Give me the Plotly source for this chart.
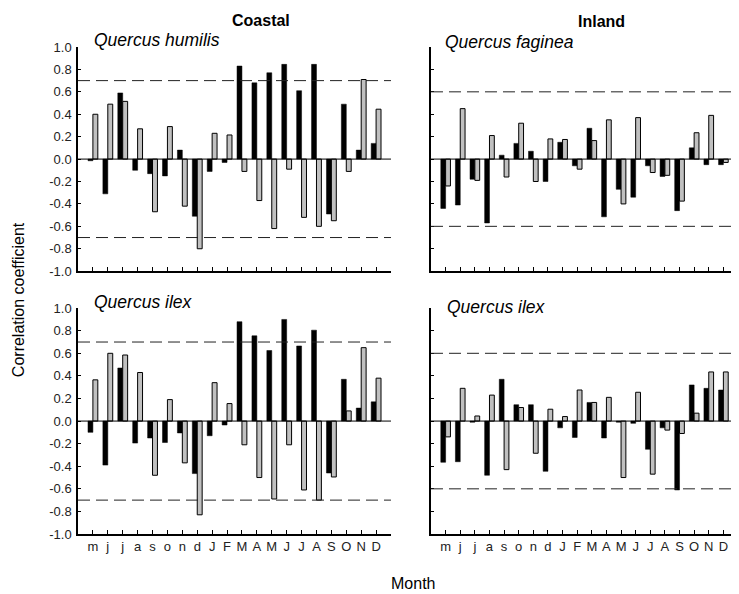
import plotly.graph_objects as go
from plotly.subplots import make_subplots

months = ["m", "j", "j", "a", "s", "o", "n", "d", "J", "F", "M", "A", "M", "J", "J", "A", "S", "O", "N", "D"]

# Coastal - Quercus humilis
humilis_black = [-0.015, -0.31, 0.59, -0.10, -0.13, -0.15, 0.08, -0.51, -0.11, -0.03,
                 0.83, 0.68, 0.77, 0.845, 0.61, 0.845, -0.49, 0.49, 0.08, 0.14]
humilis_gray = [0.40, 0.49, 0.515, 0.27, -0.47, 0.29, -0.42, -0.80, 0.23, 0.215,
                -0.11, -0.37, -0.62, -0.09, -0.52, -0.60, -0.55, -0.11, 0.71, 0.445]

# Inland - Quercus faginea
faginea_black = [-0.44, -0.41, -0.18, -0.57, 0.035, 0.14, 0.07, -0.20, 0.15, -0.06,
                 0.275, -0.515, -0.27, -0.34, -0.06, -0.155, -0.46, 0.10, -0.05, -0.05]
faginea_gray = [-0.24, 0.45, -0.19, 0.21, -0.16, 0.32, -0.20, 0.18, 0.175, -0.09,
                0.165, 0.35, -0.40, 0.37, -0.12, -0.145, -0.375, 0.235, 0.39, -0.03]

# Coastal - Quercus ilex
ilex_c_black = [-0.10, -0.39, 0.47, -0.195, -0.15, -0.19, -0.105, -0.465, -0.13, -0.035,
                0.88, 0.755, 0.625, 0.90, 0.665, 0.805, -0.46, 0.37, 0.115, 0.17]
ilex_c_gray = [0.365, 0.60, 0.585, 0.43, -0.48, 0.19, -0.37, -0.83, 0.34, 0.155,
               -0.21, -0.50, -0.69, -0.21, -0.61, -0.70, -0.495, 0.09, 0.65, 0.38]

# Inland - Quercus ilex
ilex_i_black = [-0.365, -0.36, -0.01, -0.48, 0.37, 0.145, 0.145, -0.445, -0.06, -0.145,
                0.165, -0.15, -0.01, -0.02, -0.25, -0.06, -0.61, 0.32, 0.29, 0.275]
ilex_i_gray = [-0.14, 0.29, 0.045, 0.23, -0.43, 0.12, -0.285, 0.105, 0.04, 0.275,
               0.165, 0.21, -0.50, 0.255, -0.47, -0.08, -0.11, 0.07, 0.435, 0.435]

panels = [
    (1, 1, humilis_black, humilis_gray, 0.7, "Quercus humilis"),
    (1, 2, faginea_black, faginea_gray, 0.6, "Quercus faginea"),
    (2, 1, ilex_c_black, ilex_c_gray, 0.7, "Quercus ilex"),
    (2, 2, ilex_i_black, ilex_i_gray, 0.6, "Quercus ilex"),
]

# page offset (browser body margin) compensation
OFF = 8
W, H = 739 - OFF, 594 - OFF
SX_L, SX_R = 78, 738
SY_T, SY_B = 46.7, 534
ML, MR = SX_L - OFF, (739 - SX_R)
MT, MB = SY_T - OFF, 594 - SY_B
PW = W - ML - MR
PH = H - MT - MB

def clamp(v):
    return max(0.0, min(1.0, round(v, 6)))

def px_x(px):
    return ((px - OFF) - ML) / PW

def px_y(py):
    return (H - MB - (py - OFF)) / PH

fig = make_subplots(rows=2, cols=2)

xpos = list(range(1, len(months) + 1))
FONT = "Liberation Sans, Arial, sans-serif"

for r, c, blk, gry, thr, name in panels:
    fig.add_trace(go.Bar(x=xpos, y=blk, marker=dict(color="black", line=dict(color="black", width=0.5)),
                         showlegend=False), row=r, col=c)
    fig.add_trace(go.Bar(x=xpos, y=gry, marker=dict(color="#c0c0c0", line=dict(color="black", width=1)),
                         showlegend=False), row=r, col=c)
    for v in (thr, -thr):
        fig.add_hline(y=v, line=dict(color="#222222", width=1, dash="12px,6px"), row=r, col=c)
    fig.add_hline(y=0, line=dict(color="black", width=1), row=r, col=c)

xd = {1: [clamp(px_x(78)), clamp(px_x(391))], 2: [clamp(px_x(431)), clamp(px_x(738))]}
yd = {1: [clamp(px_y(271)), clamp(px_y(46.7))], 2: [clamp(px_y(534)), clamp(px_y(308))]}

for r in (1, 2):
    for c in (1, 2):
        fig.update_xaxes(domain=xd[c], range=[0, 21], tickvals=list(range(1, 22)),
                         ticktext=(months + [""]) if r == 2 else [""] * 21,
                         ticks="inside", ticklen=4, tickcolor="black", tickwidth=1,
                         showline=True, linecolor="black", linewidth=1.5,
                         showgrid=False, zeroline=False, automargin=False,
                         tickfont=dict(family=FONT, size=13, color="#222"),
                         row=r, col=c)
        fig.update_yaxes(domain=yd[r], range=[-1.0, 1.0], tickvals=[i / 10 for i in range(-10, 11, 2)],
                         ticktext=[f"{i/10:.1f}" for i in range(-10, 11, 2)] if c == 1 else [""] * 11,
                         ticks="inside", ticklen=3, tickcolor="black", tickwidth=1,
                         showline=True, linecolor="black", linewidth=1.5,
                         showgrid=False, zeroline=False, automargin=False,
                         ticklabelstandoff=2,
                         tickfont=dict(family=FONT, size=13, color="#222"),
                         row=r, col=c)

annotations = [
    dict(text="<b>Coastal</b>", x=px_x(261), y=px_y(20), size=16),
    dict(text="<b>Inland</b>", x=px_x(601), y=px_y(21), size=16),
    dict(text="Month", x=px_x(413), y=px_y(584), size=16),
]
for a in annotations:
    fig.add_annotation(text=a["text"], x=a["x"], y=a["y"], xref="paper", yref="paper",
                       showarrow=False, xanchor="center", yanchor="middle",
                       font=dict(family=FONT, size=a["size"], color="black"))

species_pos = [("Quercus humilis", 92, 40), ("Quercus faginea", 443, 42),
               ("Quercus ilex", 92, 302), ("Quercus ilex", 445, 307)]
for t, x, y in species_pos:
    fig.add_annotation(text=f"<i>{t}</i>", x=px_x(x), y=px_y(y), xref="paper", yref="paper",
                       showarrow=False, xanchor="left", yanchor="middle",
                       font=dict(family=FONT, size=17.5, color="black"))

fig.add_annotation(text="Correlation coefficient", x=px_x(18), y=px_y(300), xref="paper", yref="paper",
                   showarrow=False, textangle=-90, xanchor="center", yanchor="middle",
                   font=dict(family=FONT, size=16, color="black"))

fig.update_layout(width=W, height=H, margin=dict(l=ML, r=MR, t=MT, b=MB, autoexpand=False),
                  barmode="group", bargap=0.34, bargroupgap=0,
                  plot_bgcolor="white", paper_bgcolor="white",
                  font=dict(family=FONT))

fig.write_html("out.html")
